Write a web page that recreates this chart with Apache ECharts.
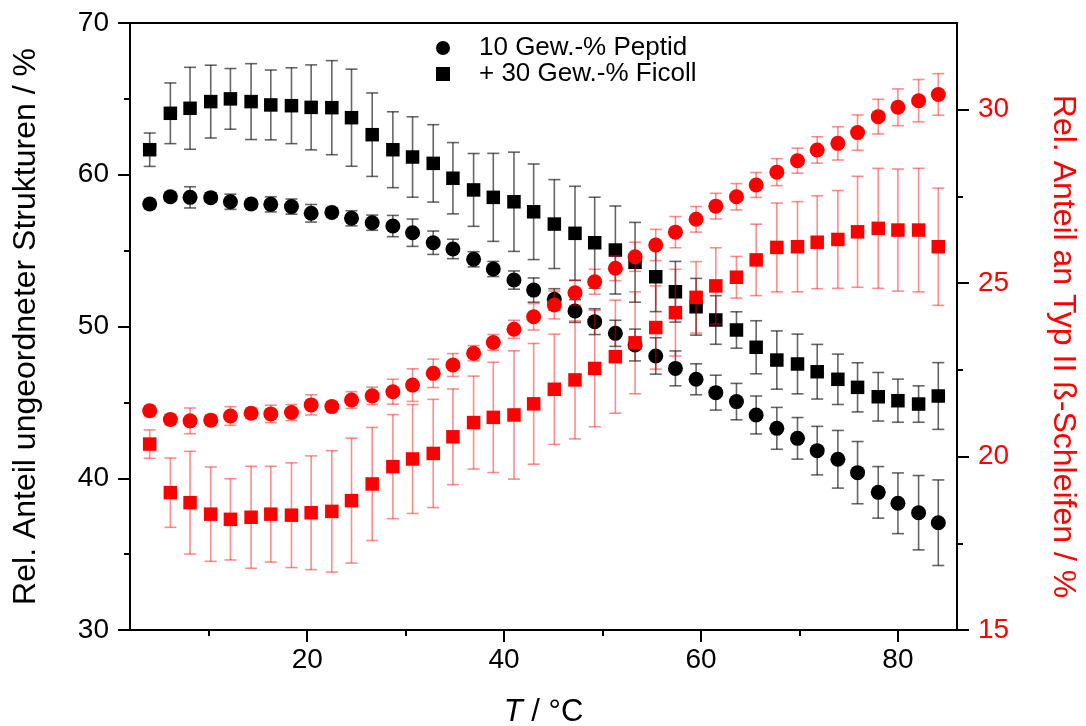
<!DOCTYPE html>
<html>
<head>
<meta charset="utf-8">
<title>Peptid / Ficoll</title>
<script src="https://cdn.jsdelivr.net/npm/echarts@6/dist/echarts.min.js"></script>
<style>
  html, body { margin: 0; padding: 0; background: #fff; }
  #chart { width: 1086px; height: 726px; }
</style>
</head>
<body>
<div id="chart"></div>
<script>
// Temperatur in °C (Messpunkte)
var temps = [4.0, 6.1, 8.1, 10.2, 12.2, 14.3, 16.3, 18.4, 20.4, 22.5,
  24.5, 26.6, 28.7, 30.7, 32.8, 34.8, 36.9, 38.9, 41.0, 43.0,
  45.1, 47.2, 49.2, 51.3, 53.3, 55.4, 57.4, 59.5, 61.5, 63.6,
  65.6, 67.7, 69.8, 71.8, 73.9, 75.9, 78.0, 80.0, 82.1, 84.1];

// ungeordnete Strukturen (linke Achse)
var peptidUnord = [58.07, 58.55, 58.51, 58.49, 58.22, 58.07, 58.05, 57.9, 57.46, 57.52,
  57.13, 56.84, 56.62, 56.18, 55.52, 55.11, 54.43, 53.79, 53.06, 52.4,
  51.79, 51.02, 50.32, 49.55, 48.78, 48.06, 47.24, 46.52, 45.64, 45.05,
  44.17, 43.29, 42.63, 41.82, 41.25, 40.37, 39.07, 38.35, 37.73, 37.07];
var peptidUnordErr = [0.3, 0.3, 0.7, 0.3, 0.5, 0.3, 0.5, 0.5, 0.58, 0.3,
  0.5, 0.5, 0.7, 0.9, 0.77, 0.64, 0.5, 0.5, 0.6, 0.8,
  0.7, 0.75, 0.85, 0.86, 1.05, 1.2, 1.15, 1.02, 1.15, 1.2,
  1.25, 1.38, 1.37, 1.6, 1.9, 2.05, 1.7, 2.0, 2.45, 2.82];

var ficollUnord = [61.65, 64.05, 64.38, 64.82, 65.0, 64.82, 64.6, 64.55, 64.44, 64.42,
  63.76, 62.64, 61.65, 61.17, 60.75, 59.77, 59.0, 58.51, 58.22, 57.56,
  56.75, 56.14, 55.52, 55.04, 54.23, 53.28, 52.29, 51.3, 50.43, 49.77,
  48.63, 47.79, 47.53, 47.02, 46.52, 45.99, 45.37, 45.11, 44.89, 45.42];
var ficollUnordErr = [1.1, 2.0, 2.7, 2.4, 2.0, 2.5, 2.3, 2.5, 2.8, 3.1,
  3.2, 2.75, 2.5, 2.65, 2.55, 2.35, 2.4, 2.9, 3.27, 3.15,
  2.93, 3.1, 3.0, 2.9, 2.63, 2.3, 2.0, 1.87, 1.6, 1.2,
  1.75, 1.92, 1.97, 1.8, 1.66, 1.62, 1.6, 1.42, 1.2, 2.2];

// Typ II ß-Schleifen (rechte Achse)
var peptidTurn = [21.32, 21.07, 21.03, 21.05, 21.17, 21.25, 21.23, 21.27, 21.49, 21.44,
  21.63, 21.75, 21.87, 22.06, 22.4, 22.64, 22.98, 23.29, 23.67, 24.03,
  24.37, 24.72, 25.04, 25.43, 25.76, 26.1, 26.47, 26.84, 27.22, 27.49,
  27.83, 28.2, 28.53, 28.84, 29.03, 29.34, 29.8, 30.07, 30.26, 30.44];
var peptidTurnErr = [0.15, 0.15, 0.37, 0.15, 0.27, 0.15, 0.25, 0.23, 0.29, 0.15,
  0.24, 0.25, 0.36, 0.47, 0.41, 0.33, 0.22, 0.23, 0.26, 0.38,
  0.4, 0.36, 0.36, 0.36, 0.42, 0.45, 0.45, 0.37, 0.37, 0.38,
  0.36, 0.39, 0.36, 0.38, 0.48, 0.51, 0.5, 0.53, 0.61, 0.6];

var ficollTurn = [20.36, 18.96, 18.67, 18.34, 18.19, 18.25, 18.34, 18.31, 18.38, 18.42,
  18.73, 19.21, 19.71, 19.93, 20.09, 20.57, 20.98, 21.13, 21.2, 21.52,
  21.94, 22.21, 22.54, 22.88, 23.28, 23.72, 24.15, 24.59, 24.92, 25.17,
  25.67, 26.03, 26.05, 26.18, 26.26, 26.48, 26.58, 26.53, 26.53, 26.05];
var ficollTurnErr = [0.41, 1.0, 1.48, 1.36, 1.17, 1.47, 1.38, 1.51, 1.64, 1.75,
  1.8, 1.63, 1.5, 1.57, 1.56, 1.38, 1.34, 1.59, 1.85, 1.74,
  1.59, 1.7, 1.68, 1.63, 1.47, 1.2, 1.25, 1.03, 1.1, 0.6,
  1.03, 1.28, 1.3, 1.34, 1.41, 1.6, 1.73, 1.76, 1.78, 1.69];

// Achsenbeschriftung
var xTicks = [20, 40, 60, 80];
var xMinorTicks = [10, 30, 50, 70];
var rightTicks = [15, 20, 25, 30];
var rightMinorTicks = [17.5, 22.5, 27.5];

var FONT = '"Liberation Sans", Arial, sans-serif';

function points(vals) {
  return temps.map(function (t, i) { return [t, vals[i]]; });
}
function bars(vals, errs) {
  return temps.map(function (t, i) { return [t, vals[i] - errs[i], vals[i] + errs[i]]; });
}

// Fehlerbalken mit Kappen
function errorBar(color) {
  return function (params, api) {
    var x = api.value(0);
    var lo = api.coord([x, api.value(1)]);
    var hi = api.coord([x, api.value(2)]);
    var half = 6;
    var style = { stroke: color, lineWidth: 1.6 };
    return {
      type: 'group',
      children: [
        { type: 'line', shape: { x1: hi[0], y1: hi[1], x2: lo[0], y2: lo[1] }, style: style },
        { type: 'line', shape: { x1: hi[0] - half, y1: hi[1], x2: hi[0] + half, y2: hi[1] }, style: style },
        { type: 'line', shape: { x1: lo[0] - half, y1: lo[1], x2: lo[0] + half, y2: lo[1] }, style: style }
      ]
    };
  };
}

var chart = echarts.init(document.getElementById('chart'));

var option = {
  animation: false,
  backgroundColor: '#fff',
  textStyle: { fontFamily: FONT },
  grid: {
    left: 130, right: 129, top: 23, bottom: 96,
    outerBoundsMode: 'none',
    containLabel: false,
    show: true, borderColor: '#000', borderWidth: 2, backgroundColor: 'transparent'
  },
  legend: {
    orient: 'vertical',
    left: 436, top: 35,
    padding: 0,
    itemGap: 0,
    itemWidth: 14,
    itemHeight: 14,
    selectedMode: false,
    data: [
      { name: '10 Gew.-% Peptid', icon: 'circle' },
      { name: '+ 30 Gew.-% Ficoll', icon: 'rect' }
    ],
    textStyle: { fontSize: 26, color: '#000', fontFamily: FONT, lineHeight: 23, padding: [0, 0, 0, 24] }
  },
  xAxis: [{
    type: 'value', min: 2, max: 86,
    name: '{i|T} / °C',
    nameLocation: 'middle', nameGap: 67,
    nameTextStyle: { fontSize: 31, color: '#000', fontFamily: FONT, rich: { i: { fontStyle: 'italic', fontSize: 31, fontFamily: FONT } } },
    axisLine: { lineStyle: { color: '#000', width: 2 } },
    axisTick: { length: 12, lineStyle: { color: '#000', width: 2 }, customValues: xTicks },
    axisLabel: { customValues: xTicks, margin: 16, fontSize: 28, color: '#000', fontFamily: FONT },
    splitLine: { show: false }
  }, {
    type: 'value', min: 2, max: 86, position: 'bottom',
    axisLine: { show: false },
    axisTick: { length: 6, lineStyle: { color: '#000', width: 2 }, customValues: xMinorTicks },
    axisLabel: { show: false },
    splitLine: { show: false }
  }],
  yAxis: [{
    type: 'value', min: 30, max: 70, interval: 10, position: 'left',
    name: 'Rel. Anteil ungeordneter Strukturen / %',
    nameLocation: 'middle', nameGap: 88,
    nameTextStyle: { fontSize: 32, color: '#000', fontFamily: FONT },
    axisLine: { show: true, lineStyle: { color: '#000', width: 2 } },
    axisTick: { length: 12, lineStyle: { color: '#000', width: 2 } },
    minorTick: { show: true, splitNumber: 2, length: 6, lineStyle: { color: '#000', width: 2 } },
    axisLabel: { margin: 21, fontSize: 28, color: '#000', fontFamily: FONT },
    splitLine: { show: false }
  }, {
    type: 'value', min: 15, max: 32.5, position: 'right',
    name: 'Rel. Anteil an Typ II ß-Schleifen / %',
    nameLocation: 'middle', nameGap: 90, nameRotate: -90,
    nameTextStyle: { fontSize: 32, color: '#ff0000', fontFamily: FONT, padding: [0, 0, 0, 40] },
    axisLine: { show: true, lineStyle: { color: '#000', width: 2 } },
    axisTick: { length: 12, lineStyle: { color: '#000', width: 2 }, customValues: rightTicks },
    axisLabel: { customValues: rightTicks, margin: 21, fontSize: 28, color: '#ff0000', fontFamily: FONT },
    splitLine: { show: false }
  }, {
    type: 'value', min: 15, max: 32.5, position: 'right',
    axisLine: { show: false },
    axisTick: { length: 6, lineStyle: { color: '#000', width: 2 }, customValues: rightMinorTicks },
    axisLabel: { show: false },
    splitLine: { show: false }
  }],
  series: [
    { type: 'custom', name: 'errPeptidUnord', renderItem: errorBar('rgba(0,0,0,0.6)'),
      data: bars(peptidUnord, peptidUnordErr), encode: { x: 0, y: [1, 2] }, z: 1, silent: true },
    { type: 'custom', name: 'errFicollUnord', renderItem: errorBar('rgba(0,0,0,0.6)'),
      data: bars(ficollUnord, ficollUnordErr), encode: { x: 0, y: [1, 2] }, z: 1, silent: true },
    { type: 'scatter', name: '10 Gew.-% Peptid', symbol: 'circle', symbolSize: 15,
      itemStyle: { color: '#000', opacity: 1 }, data: points(peptidUnord), z: 2 },
    { type: 'scatter', name: '+ 30 Gew.-% Ficoll', symbol: 'rect', symbolSize: 13.5,
      itemStyle: { color: '#000', opacity: 1 }, data: points(ficollUnord), z: 2 },
    { type: 'custom', name: 'errPeptidTurn', yAxisIndex: 1, renderItem: errorBar('rgba(255,0,0,0.45)'),
      data: bars(peptidTurn, peptidTurnErr), encode: { x: 0, y: [1, 2] }, z: 3, silent: true },
    { type: 'custom', name: 'errFicollTurn', yAxisIndex: 1, renderItem: errorBar('rgba(255,0,0,0.45)'),
      data: bars(ficollTurn, ficollTurnErr), encode: { x: 0, y: [1, 2] }, z: 3, silent: true },
    { type: 'scatter', name: 'Peptid ß-Schleifen', yAxisIndex: 1, symbol: 'circle', symbolSize: 15,
      itemStyle: { color: '#ff0000', opacity: 1 }, data: points(peptidTurn), z: 4 },
    { type: 'scatter', name: 'Ficoll ß-Schleifen', yAxisIndex: 1, symbol: 'rect', symbolSize: 13.5,
      itemStyle: { color: '#ff0000', opacity: 1 }, data: points(ficollTurn), z: 4 }
  ]
};

chart.setOption(option);
</script>
</body>
</html>
